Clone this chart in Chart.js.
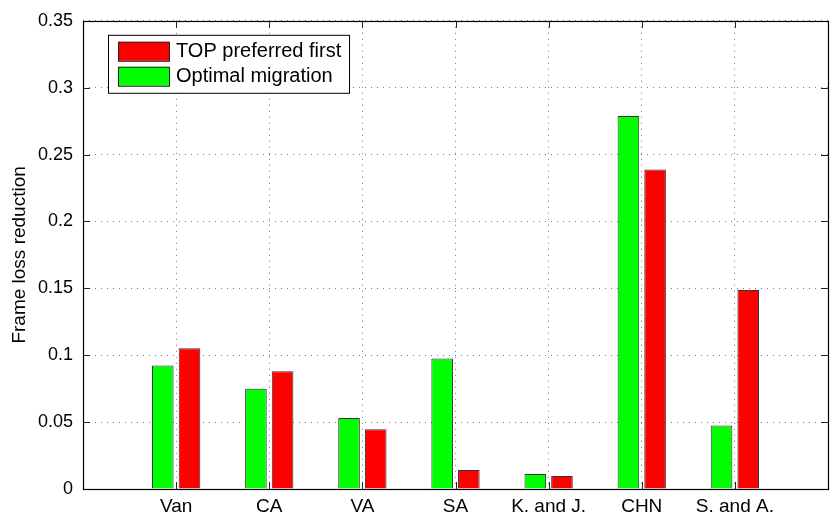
<!DOCTYPE html>
<html>
<head>
<meta charset="utf-8">
<script src="https://cdn.jsdelivr.net/npm/chart.js@4/dist/chart.umd.min.js"></script>
<style>
html,body{margin:0;padding:0;background:#fff;}
#wrap{width:830px;height:523px;position:relative;}
</style>
</head>
<body>
<div id="wrap"><canvas id="c" width="830" height="523"></canvas></div>
<script>
const categories = ['Van', 'CA', 'VA', 'SA', 'K. and J.', 'CHN', 'S. and A.'];
const optimalMigration = [0.0924, 0.0750, 0.0531, 0.0976, 0.0112, 0.2789, 0.0474];
const topPreferredFirst = [0.1053, 0.0881, 0.0447, 0.0142, 0.0097, 0.2389, 0.1488];
const yTicks = [0, 0.05, 0.1, 0.15, 0.2, 0.25, 0.3, 0.35];
const seriesNames = ['Optimal migration', 'TOP preferred first'];
const seriesColors = ['#00ff00', '#ff0000'];

const FONT = 'Liberation Sans, Arial, Helvetica, sans-serif';

const toPoints = arr => arr.map((v, i) => ({x: i + 1, y: v}));

const boxPlugin = {
  id: 'matlabBox',
  afterDatasetsDraw(chart) {
    const {ctx, chartArea: a, scales} = chart;
    ctx.save();
    ctx.strokeStyle = '#222';
    ctx.lineWidth = 1;
    const tl = 7;
    ctx.beginPath();
    scales.x.ticks.forEach(t => {
      if (t.value < 1 || t.value > categories.length) return;
      const px = Math.round(scales.x.getPixelForValue(t.value)) + 0.5;
      ctx.moveTo(px, a.bottom); ctx.lineTo(px, a.bottom - tl);
      ctx.moveTo(px, a.top); ctx.lineTo(px, a.top + tl);
    });
    scales.y.ticks.forEach(t => {
      const py = Math.round(scales.y.getPixelForValue(t.value)) + 0.5;
      ctx.moveTo(a.left, py); ctx.lineTo(a.left + tl, py);
      ctx.moveTo(a.right, py); ctx.lineTo(a.right - tl, py);
    });
    ctx.stroke();
    ctx.strokeStyle = '#000';
    ctx.lineWidth = 1.2;
    ctx.strokeRect(Math.round(a.left) + 0.5, Math.round(a.top) + 0.5, Math.round(a.right - a.left), Math.round(a.bottom - a.top));
    ctx.restore();
  },
  afterDraw(chart) {
    const {ctx, chartArea: a} = chart;
    const bx = a.left + 25, by = a.top + 14, bw = 241, bh = 58;
    ctx.save();
    ctx.fillStyle = '#fff';
    ctx.fillRect(bx, by, bw, bh);
    ctx.strokeStyle = '#000';
    ctx.lineWidth = 1;
    ctx.strokeRect(bx + 0.5, by + 0.5, bw, bh);
    const order = [1, 0];
    order.forEach((di, row) => {
      const sy = by + 7 + row * 25;
      ctx.fillStyle = seriesColors[di];
      ctx.fillRect(bx + 10, sy, 51, 19);
      ctx.strokeStyle = '#222';
      ctx.strokeRect(bx + 10.5, sy + 0.5, 51, 19);
      ctx.fillStyle = '#000';
      ctx.font = '20px ' + FONT;
      ctx.textBaseline = 'middle';
      ctx.textAlign = 'left';
      ctx.fillText(seriesNames[di], bx + 68, sy + 10);
    });
    ctx.restore();
  }
};

new Chart(document.getElementById('c'), {
  type: 'bar',
  data: {
    datasets: [
      {label: seriesNames[0], data: toPoints(optimalMigration), backgroundColor: seriesColors[0], borderColor: '#333', borderWidth: 1, categoryPercentage: 0.573, barPercentage: 0.81},
      {label: seriesNames[1], data: toPoints(topPreferredFirst), backgroundColor: seriesColors[1], borderColor: '#333', borderWidth: 1, categoryPercentage: 0.573, barPercentage: 0.81}
    ]
  },
  options: {
    responsive: false,
    animation: false,
    devicePixelRatio: 1,
    layout: {padding: {top: 19, right: 2, left: 0, bottom: 0}},
    plugins: {legend: {display: false}, tooltip: {enabled: false}},
    scales: {
      x: {
        type: 'linear',
        offset: false,
        min: 0,
        max: categories.length + 1,
        afterBuildTicks(scale) {
          scale.ticks = categories.map((c, i) => ({value: i + 1}));
        },
        afterFit(scale) { scale.height = 34; },
        ticks: {
          autoSkip: false,
          maxRotation: 0,
          padding: 6,
          color: '#000',
          font: {family: FONT, size: 19},
          callback: v => categories[v - 1] || ''
        },
        grid: {color: '#777', lineWidth: 1, drawTicks: false, offset: false},
        border: {display: false, dash: [1, 5]}
      },
      y: {
        min: 0,
        max: 0.35,
        afterBuildTicks(scale) {
          scale.ticks = yTicks.map(v => ({value: v}));
        },
        afterFit(scale) { scale.width = 83; },
        ticks: {
          padding: 10,
          color: '#000',
          font: {family: FONT, size: 18},
          callback: v => String(+v.toFixed(2))
        },
        title: {
          display: true,
          text: 'Frame loss reduction',
          color: '#000',
          font: {family: FONT, size: 19},
          padding: {top: 8, bottom: 0}
        },
        grid: {color: '#777', lineWidth: 1, drawTicks: false},
        border: {display: false, dash: [1, 5]}
      }
    }
  },
  plugins: [boxPlugin]
});
</script>
</body>
</html>
